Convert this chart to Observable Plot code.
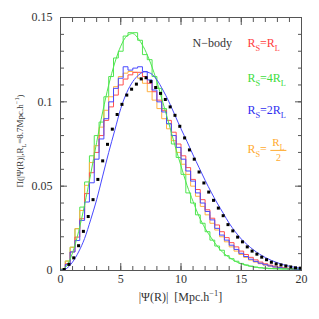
<!DOCTYPE html>
<html><head><meta charset="utf-8">
<script src="https://cdn.jsdelivr.net/npm/d3@7"></script>
<script src="https://cdn.jsdelivr.net/npm/@observablehq/plot@0.6"></script>
<style>body{margin:0;background:#fff} svg{display:block}</style>
</head><body><div id="chart"></div>
<script>
// ---- data ----
const binWidth = 0.4;
const dotOffset = 0.3;
const nbody = [0.0006,0.0036,0.0075,0.0147,0.0232,0.032,0.042,0.054,0.065,0.0748,
 0.0838,0.0925,0.0985,0.104,0.1075,0.1105,0.1136,0.1143,0.112,0.1085,
 0.105,0.1014,0.097,0.092,0.0855,0.0786,0.0715,0.066,0.0584,0.0519,
 0.0465,0.0416,0.037,0.0325,0.0272,0.0235,0.0198,0.017,0.014,0.0115,
 0.0097,0.0079,0.0064,0.0049,0.0039,0.0033,0.0027,0.0021,0.0016,0.0014];
const histRL = [0.0006,0.004,0.011,0.0198,0.0307,0.0456,0.058,0.070,0.080,0.089,
 0.097,0.104,0.110,0.1135,0.116,0.1175,0.1175,0.115,0.111,0.106,
 0.101,0.095,0.089,0.082,0.075,0.068,0.061,0.054,0.048,0.042,
 0.036,0.031,0.027,0.023,0.0195,0.0165,0.014,0.0115,0.0095,0.0078,
 0.0063,0.005,0.004,0.0032,0.0026,0.002,0.0016,0.0013,0.001,0.0008];
const hist4RL = [0.0008,0.0056,0.0138,0.0248,0.0376,0.0525,0.068,0.080,0.088,0.103,
 0.115,0.126,0.130,0.139,0.141,0.141,0.1365,0.128,0.125,0.115,
 0.108,0.096,0.087,0.075,0.067,0.057,0.046,0.040,0.033,0.028,
 0.023,0.018,0.0145,0.012,0.0088,0.007,0.0055,0.0042,0.0033,0.0026,
 0.002,0.0016,0.0013,0.0011,0.001,0.0009,0.0008,0.0008,0.0007,0.0007];
const hist2RL = [0.0005,0.0035,0.011,0.0178,0.0297,0.0406,0.052,0.066,0.078,0.090,
 0.100,0.108,0.114,0.1208,0.1188,0.120,0.1208,0.118,0.113,0.107,
 0.100,0.094,0.087,0.080,0.073,0.066,0.059,0.053,0.046,0.040,
 0.035,0.030,0.025,0.021,0.018,0.015,0.0125,0.0102,0.0083,0.0067,
 0.0054,0.0043,0.0034,0.0027,0.0021,0.0017,0.0013,0.001,0.0008,0.0006];
const histHalfRL = [0.0008,0.0056,0.0138,0.0248,0.0356,0.0505,0.064,0.074,0.085,0.095,
 0.103,0.109,0.115,0.117,0.118,0.1175,0.114,0.111,0.106,0.101,
 0.096,0.090,0.084,0.077,0.070,0.063,0.057,0.050,0.044,0.038,
 0.033,0.028,0.024,0.020,0.017,0.014,0.0115,0.0095,0.0078,0.0062,
 0.005,0.004,0.0032,0.0026,0.002,0.0016,0.0013,0.001,0.0008,0.0006];
// smooth model curves
const blueCurveX = [0,0.5,1,1.5,2,2.5,3,3.5,4,4.5,5,5.5,6,6.5,7,7.5,8,8.5,9,9.5,10,10.5,11,11.5,12,12.5,13,13.5,14,14.5,15,15.5,16,17,18,19,20];
const blueCurveY = [0,0.0012,0.005,0.011,0.019,0.030,0.042,0.056,0.070,0.083,0.096,0.1055,0.112,0.116,0.1178,0.1168,0.113,0.107,0.100,0.092,0.084,0.0765,0.0685,0.061,0.0535,0.0465,0.040,0.034,0.028,0.023,0.0187,0.0153,0.0123,0.0077,0.0046,0.0025,0.0013];
const greenCurveX = [0,0.5,1,1.5,2,2.5,3,3.5,4,4.5,5,5.5,6,6.5,7,7.5,8,8.5,9,9.5,10,10.5,11,11.5,12,12.5,13,13.5,14,14.5,15,16,17,18,19,20];
const greenCurveY = [0,0.0025,0.0105,0.023,0.039,0.057,0.076,0.094,0.110,0.123,0.133,0.139,0.1405,0.137,0.131,0.1225,0.112,0.0995,0.087,0.074,0.062,0.0505,0.041,0.032,0.025,0.0195,0.0145,0.0105,0.0078,0.0055,0.004,0.0022,0.0014,0.0011,0.001,0.001];
// ticks
const xMajor = [0,5,10,15,20];
const xMinor = d3.range(0,21,1);
const yMajor = [0,0.05,0.1,0.15];
const yMinor = d3.range(0,0.1501,0.01);
const yMajorLabels = ["0","0.05","0.1","0.15"];

const colors = {red:"#ff5050", green:"#50e650", blue:"#4848ff", orange:"#ffb040"};
const textColors = {red:"#ff4040", green:"#40dd40", blue:"#3030f0", orange:"#ffaa30"};

function stepTable(vals){
  const t = vals.map((v,k)=>({x:k*binWidth, y:v}));
  t.push({x:vals.length*binWidth, y:vals[vals.length-1]});
  return t;
}
const dots = nbody.map((v,k)=>({x:dotOffset + k*binWidth, y:v}));
const blueCurve = blueCurveX.map((x,i)=>({x, y:blueCurveY[i]}));
const greenCurve = greenCurveX.map((x,i)=>({x, y:greenCurveY[i]}));

const font = "Liberation Serif, DejaVu Serif, serif";
const axisCol = "#555";
const ax = {stroke: axisCol, label: null};

const chart = Plot.plot({
  width: 319, height: 319,
  marginLeft: 60, marginRight: 18, marginTop: 17, marginBottom: 49,
  style: {fontFamily: font, fontSize: "12px", color: "#333", background: "#fff"},
  x: {domain:[0,20]},
  y: {domain:[0,0.15]},
  marks: [
    Plot.line(stepTable(hist4RL), {x:"x", y:"y", curve:"step-after", stroke:colors.green, strokeWidth:1}),
    Plot.line(stepTable(histHalfRL), {x:"x", y:"y", curve:"step-after", stroke:colors.orange, strokeWidth:1}),
    Plot.line(stepTable(histRL), {x:"x", y:"y", curve:"step-after", stroke:colors.red, strokeWidth:1}),
    Plot.line(stepTable(hist2RL), {x:"x", y:"y", curve:"step-after", stroke:colors.blue, strokeWidth:1}),
    Plot.line(greenCurve, {x:"x", y:"y", curve:"monotone-x", stroke:colors.green, strokeWidth:1}),
    Plot.line(blueCurve, {x:"x", y:"y", curve:"monotone-x", stroke:colors.blue, strokeWidth:1}),
    Plot.dot(dots, {x:"x", y:"y", symbol:"square", r:1.7, fill:"#000", stroke:null}),
    Plot.frame({stroke: axisCol, strokeWidth: 1}),
    // ticks pointing inward on all sides
    Plot.axisX({...ax, anchor:"bottom", ticks:xMinor, tickSize:-4, tickFormat:()=>""}),
    Plot.axisX({...ax, anchor:"top", ticks:xMinor, tickSize:-4, tickFormat:()=>""}),
    Plot.axisX({...ax, anchor:"bottom", ticks:xMajor, tickSize:-7, tickPadding:11, tickFormat:d=>String(d), fill:"#333"}),
    Plot.axisX({...ax, anchor:"top", ticks:xMajor, tickSize:-7, tickFormat:()=>""}),
    Plot.axisY({...ax, anchor:"left", ticks:yMinor, tickSize:-4, tickFormat:()=>""}),
    Plot.axisY({...ax, anchor:"right", ticks:yMinor, tickSize:-4, tickFormat:()=>""}),
    Plot.axisY({...ax, anchor:"left", ticks:yMajor, tickSize:-7, tickPadding:15, tickFormat:d=>yMajorLabels[yMajor.indexOf(d)] ?? String(d), fill:"#333"}),
    Plot.axisY({...ax, anchor:"right", ticks:yMajor, tickSize:-7, tickFormat:()=>""})
  ]
});
document.getElementById("chart").appendChild(chart);

// ---- annotations with sub/superscripts ----
const sx = chart.scale("x"), sy = chart.scale("y");
const svg = d3.select(chart);
function rich(x, y, parts, color, opts={}){
  const base = opts.size||12;
  const t = svg.append("text").attr("x", x).attr("y", y)
    .attr("fill", color).attr("font-family", font).attr("font-size", base)
    .attr("text-anchor", opts.anchor||"start");
  if (opts.rotate) t.attr("transform", `rotate(${opts.rotate},${x},${y})`);
  let shift = 0;
  for (const [s, kind] of parts){
    const target = kind === "sub" ? base*0.3 : kind === "sup" ? -base*0.4 : 0;
    const sp = t.append("tspan").text(s).attr("dy", target - shift);
    if (kind) sp.attr("font-size", base*0.7);
    shift = target;
  }
  return t;
}
const lx = sx.apply(15.55);
rich(sx.apply(11.0), sy.apply(0.132), [["N−body",null]], "#333");
rich(lx, sy.apply(0.132), [["R",null],["S","sub"],["=R",null],["L","sub"]], textColors.red);
rich(lx, sy.apply(0.1115), [["R",null],["S","sub"],["=4R",null],["L","sub"]], textColors.green);
rich(lx, sy.apply(0.0925), [["R",null],["S","sub"],["=2R",null],["L","sub"]], textColors.blue);
// R_S = R_L / 2 as a fraction
const fy = sy.apply(0.0715);
rich(lx, fy+4, [["R",null],["S","sub"],["=",null]], textColors.orange);
const fx = lx + 23;
rich(fx+8, fy-3, [["R",null],["L","sub"]], textColors.orange, {anchor:"middle", size:11});
svg.append("line").attr("x1", fx).attr("x2", fx+16).attr("y1", fy+1).attr("y2", fy+1)
  .attr("stroke", textColors.orange).attr("stroke-width", 1);
rich(fx+8, fy+12, [["2",null]], textColors.orange, {anchor:"middle", size:10});

// axis titles
rich((sx.apply(0)+sx.apply(20))/2, 301, [["|Ψ(R)|  [Mpc.h",null],["−1","sup"],["]",null]], "#333", {anchor:"middle"});
rich(23, 141, [["Π(|Ψ(R)|,R",null],["L","sub"],["=8.7Mpc.h",null],["−1","sup"],[")",null]], "#333", {anchor:"middle", rotate:-90, size:9});
</script>
</body></html>
